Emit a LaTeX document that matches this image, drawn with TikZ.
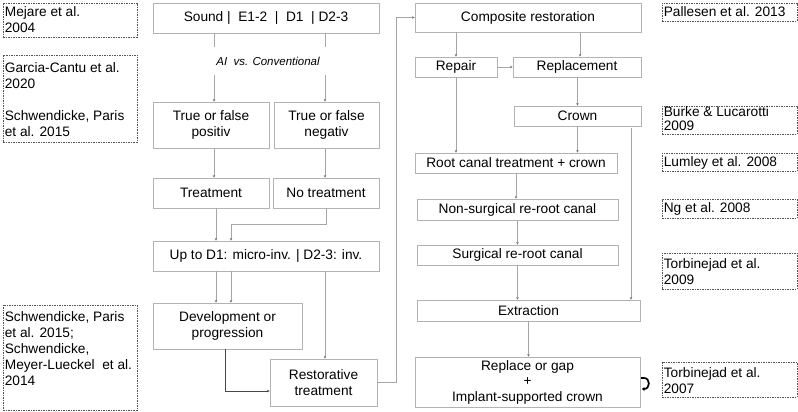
\documentclass[tikz,border=0pt]{standalone}
\usepackage{fontspec}
\setmainfont{Liberation Sans}
\usetikzlibrary{arrows.meta,calc}
\definecolor{boxgray}{HTML}{B3B3B3}
\definecolor{linegray}{HTML}{A6A6A6}
\definecolor{tipgray}{HTML}{6E6E6E}
\definecolor{refgray}{HTML}{555555}
\begin{document}
\begin{tikzpicture}[x=1pt,y=-1pt,
  every node/.style={font=\fontsize{13.7}{16}\selectfont},
  sz/.style 2 args={minimum width=#1pt, minimum height=#2pt},
  mainbox/.style={draw=boxgray, line width=0.8pt, inner sep=0pt, align=center},
  refbox/.style={draw=refgray, dash pattern=on 1.5pt off 1pt, line width=0.7pt, inner sep=0pt},
  reftext/.style={anchor=north west, inner sep=2pt, align=left},
  conn/.style={draw=linegray, line width=0.7pt, -{Stealth[length=2.5pt,width=2.5pt,color=tipgray]}},
  darkconn/.style={draw=black!72, line width=0.8pt, -{Stealth[length=2.5pt,width=2.5pt]}},
]
\useasboundingbox (0,0) rectangle (798,412);

% ---------- left reference boxes ----------
\node[refbox, sz={134}{34}] (mejareBox) at (70,20) {};
\node[reftext] (mejare) at ($(mejareBox.north west)+(0,2)$) {Mejare et al.\\2004};
\node[refbox, sz={134}{87}] (garciaBox) at (70,98.5) {};
\node[reftext] (garcia) at ($(garciaBox.north west)+(0,6)$) {Garcia-Cantu et al.\\2020\\[16pt]Schwendicke, Paris\\et al. 2015};
\node[refbox, sz={134}{105}] (schwBox) at (70,357.5) {};
\node[reftext] (schw) at ($(schwBox.north west)+(0,5)$) {Schwendicke, Paris\\et al. 2015;\\Schwendicke,\\Meyer-Lueckel~ et al.\\2014};

% ---------- centre column ----------
\node[mainbox, sz={226}{30}] (sound) at (266,18) {Sound~|~~E1-2~~|~~D1~~|~D2-3};
\node[mainbox, sz={116}{46}] (pos) at (211,125) {True or false\\positiv};
\node[mainbox, sz={105}{46}] (neg) at (326.5,125) {True or false\\negativ};
\node[mainbox, sz={116}{30}] (treat) at (211,193) {Treatment};
\node[mainbox, sz={106}{30}] (notreat) at (326,193) {No treatment};
\node[mainbox, sz={226}{30}] (up) at (266,256) {Up to D1: micro-inv. | D2-3: inv.};
\node[mainbox, sz={149}{46}] (dev) at (227.5,326) {Development or\\progression};
\node[mainbox, sz={107}{47}] (rest) at (323.5,382.5) {Restorative\\treatment};

% ---------- right column ----------
\node[mainbox, sz={226}{29}] (comp) at (528,17.5) {Composite restoration};
\node[mainbox, sz={82}{20}] (repair) at (456,67) {Repair};
\node[mainbox, sz={128}{20}] (replm) at (577,67) {Replacement};
\node[mainbox, sz={127}{20}] (crown) at (577.5,116) {Crown};
\node[mainbox, sz={202}{20}] (rct) at (516,163) {Root canal treatment + crown};
\node[mainbox, sz={201}{21}] (nonsurg) at (517.5,209.5) {Non-surgical re-root canal};
\node[mainbox, sz={201}{20}] (surg) at (517.5,255) {Surgical re-root canal};
\node[mainbox, sz={223}{21}] (extr) at (528.5,310.5) {Extraction};
\node[mainbox, sz={225}{50}, font=\fontsize{13.7}{15.5}\selectfont] (replace) at (527.5,382) {Replace or gap\\+\\Implant-supported crown};

% ---------- right reference boxes ----------
\node[refbox, sz={135}{18}] (pallBox) at (729.5,12) {};
\node[reftext] (pall) at ($(pallBox.north west)+(0,1.5)$) {Pallesen et al. 2013};
\node[refbox, sz={135}{28}] (burkeBox) at (729.5,120) {};
\node[reftext, inner ysep=1pt, font=\fontsize{13.7}{13.5}\selectfont] (burke) at ($(burkeBox.north west)+(0,0)$) {Burke \& Lucarotti\\2009};
\node[refbox, sz={135}{18}] (lumBox) at (729.5,162) {};
\node[reftext] (lum) at ($(lumBox.north west)+(0,2)$) {Lumley et al. 2008};
\node[refbox, sz={135}{19}] (ngBox) at (729.5,208.5) {};
\node[reftext] (ng) at ($(ngBox.north west)+(0,2)$) {Ng et al. 2008};
\node[refbox, sz={135}{36}] (tor9Box) at (729.5,271) {};
\node[reftext] (tor9) at ($(tor9Box.north west)+(0,4)$) {Torbinejad et al.\\2009};
\node[refbox, sz={135}{35}] (tor7Box) at (729.5,379.5) {};
\node[reftext] (tor7) at ($(tor7Box.north west)+(0,4)$) {Torbinejad et al.\\2007};

% ---------- connectors, centre ----------
\draw[conn] ($(sound.south)+(-52,0)$) coordinate (s1) -- (s1 |- pos.north);
\draw[conn] ($(sound.south)+(59,0)$) coordinate (s2) -- (s2 |- neg.north);
\node[fill=white, inner sep=0pt, sz={124}{28}, font=\fontsize{11.5}{14}\selectfont\itshape] (ai) at (268,61) {AI~~vs. Conventional};
\draw[conn] ($(pos.south)+(3,0)$) coordinate (p1) -- (p1 |- treat.north);
\draw[conn] ($(neg.south)+(-1.5,0)$) coordinate (n1) -- (n1 |- notreat.north);
\draw[conn] ($(treat.south)+(5,0)$) coordinate (t1) -- (t1 |- up.north);
\draw[conn] (notreat.south) -- ++(0,16) -| ($(up.north)+(-35,0)$);
\draw[conn] ($(up.south)+(-50,0)$) coordinate (u1) -- (u1 |- dev.north);
\draw[conn] ($(up.south)+(-35,0)$) coordinate (u2) -- (u2 |- dev.north);
\draw[conn] ($(up.south)+(59,0)$) coordinate (u3) -- (u3 |- rest.north);
\draw[darkconn] ($(dev.south)+(-2.5,0)$) |- ($(rest.west)+(0,8.5)$);
\draw[conn] (rest.east) -- ++(19,0) |- (comp.west);

% ---------- connectors, right ----------
\draw[conn] (repair.north |- comp.south) -- (repair.north);
\draw[conn] ($(replm.north |- comp.south)+(3,0)$) coordinate (c2) -- (c2 |- replm.north);
\draw[conn] (repair.east) -- (replm.west);
\draw[conn] (crown.north |- replm.south) -- (crown.north);
\draw[conn] (repair.south) -- (repair.south |- rct.north);
\draw[conn] (crown.south) -- (crown.south |- rct.north);
\draw[conn] ($(crown.south)+(53.5,2)$) coordinate (k1) -- (k1 |- extr.north);
\draw[conn] (rct.south) -- (rct.south |- nonsurg.north);
\draw[conn] (nonsurg.south) -- (surg.north);
\draw[conn] (surg.south) -- (surg.south |- extr.north);
\draw[conn] (extr.south) -- (extr.south |- replace.north);

% ---------- hook mark ----------
\draw[black, line width=1.7pt, -{Stealth[length=2.5pt,width=4pt]}] (641,378) -- (644,378) .. controls (650.5,378) and (650.5,389) .. (644,389) -- (642,389);
\end{tikzpicture}
\end{document}
